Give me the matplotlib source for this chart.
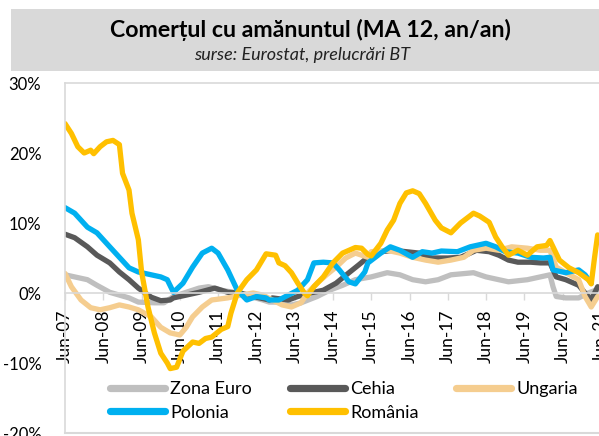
import matplotlib
matplotlib.use("Agg")
import matplotlib.pyplot as plt
import matplotlib.dates as mdates
import pandas as pd
from matplotlib.patches import Rectangle

# ---------------- data ----------------
ro_dates = ["2007-06","2007-08","2007-10","2007-12","2008-02","2008-03","2008-05","2008-07","2008-09","2008-11",
            "2008-12","2009-02","2009-03","2009-05","2009-06","2009-08","2009-10","2009-12","2010-02","2010-03",
            "2010-05","2010-07","2010-10","2010-12","2011-02","2011-04","2011-07","2011-09","2011-10","2011-12",
            "2012-03","2012-06","2012-09","2012-12","2013-01","2013-03","2013-05","2013-07","2013-09","2013-10",
            "2013-12","2014-03","2014-06","2014-09","2015-01","2015-03","2015-05","2015-06","2015-09","2015-11",
            "2016-01","2016-03","2016-05","2016-07","2016-09","2016-11","2017-02","2017-04","2017-07","2017-10",
            "2018-02","2018-04","2018-07","2018-09","2018-11","2019-01","2019-04","2019-07","2019-10","2020-01",
            "2020-02","2020-03","2020-05","2020-08","2020-11","2021-02","2021-03","2021-04","2021-05"]
ro_vals = [24.2,22.8,20.9,20.0,20.4,19.9,20.9,21.6,21.8,21.2,
           17.1,14.7,11.4,7.6,3.0,-2.0,-5.7,-8.6,-10.0,-10.8,
           -10.6,-8.3,-7.0,-7.2,-6.5,-6.3,-5.2,-4.8,-2.9,0.0,
           1.9,3.3,5.6,5.4,4.3,3.9,2.9,1.4,0.0,-0.4,
           0.9,2.3,4.3,5.7,6.5,6.4,5.5,5.3,7.1,9.0,
           10.4,12.8,14.3,14.6,14.2,12.8,10.4,9.3,8.6,10.0,
           11.4,11.0,10.1,8.0,6.6,5.4,6.1,5.4,6.6,6.8,
           7.5,6.6,4.7,3.6,2.9,1.9,1.3,5.0,8.3]

pl_dates = ["2007-06","2007-09","2008-01","2008-04","2008-08","2008-11","2009-02","2009-05","2009-09","2009-12",
            "2010-02","2010-04","2010-07","2010-10","2011-01","2011-04","2011-06","2011-09","2011-12","2012-03",
            "2012-06","2012-09","2012-10","2013-01","2013-04","2013-07","2013-10","2013-12","2014-03","2014-06",
            "2014-08","2014-11","2015-01","2015-04","2015-05","2015-09","2015-12","2016-03","2016-07","2016-10",
            "2017-01","2017-04","2017-09","2018-01","2018-06","2018-09","2018-12","2019-04","2019-08","2019-12",
            "2020-02","2020-03","2020-07","2020-11","2021-01","2021-03"]
pl_vals = [12.2,11.4,9.4,8.6,6.6,5.1,3.6,3.0,2.6,2.3,
           1.9,0.1,1.4,3.7,5.7,6.4,5.7,3.3,0.4,-1.0,
           -0.5,-0.7,-1.0,-1.0,-0.3,0.4,1.9,4.3,4.4,4.3,
           3.3,1.6,1.3,3.0,4.3,5.7,6.6,6.1,5.1,5.9,
           5.7,6.0,5.9,6.6,7.1,6.6,5.9,5.7,5.1,5.0,
           5.1,3.3,2.9,3.3,2.6,1.4]

cz_dates = ["2007-06","2007-09","2008-01","2008-04","2008-08","2008-11","2009-02","2009-05","2009-09","2009-12",
            "2010-03","2010-04","2010-08","2010-12","2011-05","2011-09","2012-01","2012-05","2012-10","2012-11",
            "2013-04","2013-07","2013-11","2014-03","2014-07","2014-11","2015-02","2015-05","2015-09","2016-01",
            "2016-05","2016-09","2017-01","2017-06","2017-10","2018-01","2018-03","2018-07","2018-10","2019-01",
            "2019-04","2019-08","2019-11","2020-02","2020-04","2020-07","2020-11","2021-01","2021-03","2021-05"]
cz_vals = [8.4,7.9,6.6,5.4,4.3,3.0,1.9,0.7,-0.6,-1.1,
           -1.0,-0.7,-0.3,0.1,0.7,0.1,0.0,-0.5,-1.0,-0.7,
           -1.0,-0.5,0.0,0.4,1.4,2.9,4.0,5.1,5.9,6.1,
           5.9,5.7,5.0,5.0,5.1,5.7,6.1,5.9,5.4,4.7,
           4.4,4.4,4.3,4.3,2.3,1.9,1.1,0.0,-1.0,0.9]

ez_dates = ["2007-06","2007-09","2008-01","2008-04","2008-08","2008-11","2009-02","2009-05","2009-10","2010-01",
            "2010-04","2010-08","2010-12","2011-03","2011-07","2011-12","2012-04","2012-08","2012-10","2013-01",
            "2013-05","2013-08","2014-01","2014-05","2014-09","2015-01","2015-06","2015-11","2016-03","2016-07",
            "2016-11","2017-03","2017-07","2018-02","2018-06","2018-10","2019-01","2019-07","2019-11","2020-02",
            "2020-03","2020-04","2020-07","2020-11","2021-02","2021-05"]
ez_vals = [2.6,2.3,1.9,1.1,0.1,-0.3,-0.7,-1.3,-1.4,-1.4,
           -0.5,0.1,0.7,0.9,0.4,0.0,-0.5,-1.0,-1.3,-1.3,
           -1.7,-1.4,-0.5,0.4,1.1,1.9,2.3,2.9,2.6,1.9,
           1.6,1.9,2.6,2.9,2.3,1.9,1.6,1.9,2.3,2.6,
           0.9,-0.5,-0.7,-0.7,0.0,0.5]

hu_dates = ["2007-06","2007-08","2007-11","2008-02","2008-05","2008-08","2008-11","2009-02","2009-05","2009-09",
            "2009-12","2010-03","2010-06","2010-08","2010-10","2011-01","2011-04","2011-09","2012-01","2012-05",
            "2012-08","2012-11","2013-02","2013-05","2013-08","2013-10","2014-01","2014-04","2014-07","2014-10",
            "2015-01","2015-05","2015-06","2015-11","2016-03","2016-07","2016-11","2017-03","2017-07","2017-11",
            "2018-02","2018-06","2018-10","2019-02","2019-07","2019-11","2020-02","2020-04","2020-07","2020-11",
            "2021-01","2021-03","2021-05"]
hu_vals = [2.8,0.9,-1.0,-2.1,-2.4,-2.1,-1.7,-2.0,-2.4,-3.4,
           -4.9,-5.7,-6.0,-4.9,-3.4,-2.0,-1.0,-0.7,-0.3,0.0,
           -0.3,-1.0,-1.7,-2.0,-1.4,0.0,1.4,2.6,3.7,5.0,
           5.7,5.1,5.9,6.1,5.7,5.1,4.7,4.4,4.7,5.1,
           6.1,6.4,6.1,6.6,6.4,6.1,6.1,3.7,2.9,1.9,
           -0.5,-2.0,-0.5]

series = [
    ("Zona Euro", ez_dates, ez_vals, "#bfbfbf"),
    ("Cehia", cz_dates, cz_vals, "#595959"),
    ("Ungaria", hu_dates, hu_vals, "#f5cd8f"),
    ("Polonia", pl_dates, pl_vals, "#00b0f0"),
    ("România", ro_dates, ro_vals, "#ffc000"),
]

title = "Comerțul cu amănuntul (MA 12, an/an)"
subtitle = "surse: Eurostat, prelucrări BT"
yticks = [-20, -10, 0, 10, 20, 30]
ytick_labels = ["-20%", "-10%", "0%", "10%", "20%", "30%"]

# ---------------- figure ----------------
W, H = 599, 436
fig = plt.figure(figsize=(W/100, H/100), dpi=100)
FONT = ["Lato", "DejaVu Sans"]
plt.rcParams["font.family"] = FONT

# title band
fig.patches.append(Rectangle((11/W, 1-71/H), 1.0, 62/H, transform=fig.transFigure,
                             facecolor="#d9d9d9", edgecolor="none", zorder=0))
fig.text(310/W, 1-30/H, title, ha="center", va="center", fontsize=16.7, fontweight="bold", color="#000000")
fig.text(302/W, 1-55/H, subtitle, ha="center", va="center", fontsize=13, style="italic", color="#222222")

x0 = pd.Timestamp("2007-06-01")
x1 = pd.Timestamp("2021-12-01")
px_per_month = 3.19
months = (x1.year - x0.year) * 12 + (x1.month - x0.month)
left_px, top_px, bot_px = 65, 83, 433
ax_w_px = months * px_per_month
ax = fig.add_axes([left_px/W, 1-bot_px/H, ax_w_px/W, (bot_px-top_px)/H])

lines = {}
for name, d, v, c in series:
    ln, = ax.plot(pd.to_datetime(d), v, color=c, lw=3.8, label=name, solid_capstyle="round",
                  solid_joinstyle="round")
    lines[name] = ln

ax.set_xlim(x0, x1)
ax.set_ylim(-20, 30)
ax.set_yticks(yticks)
ax.set_yticklabels(ytick_labels)
ax.tick_params(axis="y", length=0, pad=17, labelsize=12, colors="#000000")

ax.xaxis.set_major_locator(mdates.MonthLocator(bymonth=6))
ax.xaxis.set_major_formatter(mdates.DateFormatter("%b-%y"))
ax.tick_params(axis="x", direction="out", length=5, color="#d9d9d9", width=1,
               labelsize=12.5, labelrotation=90, pad=7)
for lab in ax.get_xticklabels():
    lab.set_verticalalignment("top")

ax.spines["bottom"].set_position(("data", 0))
for s in ["bottom", "left", "top"]:
    ax.spines[s].set_color("#d9d9d9")
    ax.spines[s].set_linewidth(1.2)
ax.spines["right"].set_visible(False)
ax.axhline(-20, color="#d9d9d9", lw=1.5, clip_on=False, zorder=1)
ax.set_facecolor("white")

order = ["Zona Euro", "Polonia", "Cehia", "România", "Ungaria"]
leg = ax.legend([lines[n] for n in order], order, ncol=3, loc="center left",
                bbox_to_anchor=(45/ax_w_px, (433-401)/350),
                frameon=False, fontsize=13, handlelength=3.05, handletextpad=0.28,
                columnspacing=2.1, labelspacing=0.4, borderaxespad=0, borderpad=0)
for h in leg.get_lines():
    h.set_linewidth(5.2)
    h.set_solid_capstyle("round")

fig.savefig("out.png", dpi=100)
